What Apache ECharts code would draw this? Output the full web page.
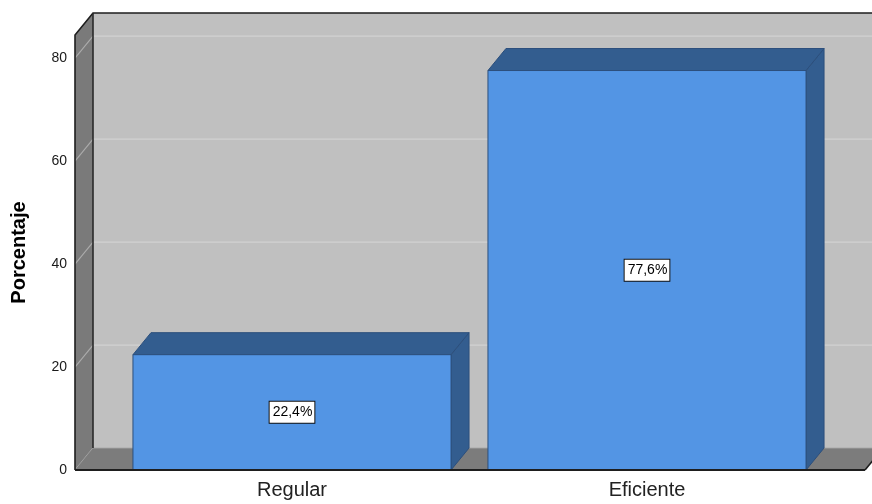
<!DOCTYPE html>
<html>
<head>
<meta charset="utf-8">
<script src="https://cdn.jsdelivr.net/npm/echarts@6/dist/echarts.min.js"></script>
<style>
  html, body { margin: 0; padding: 0; background: #fff; }
  #chart { width: 872px; height: 504px; }
</style>
</head>
<body>
<div id="chart"></div>
<script>
// Categories and their percentages
const categories = ['Regular', 'Eficiente'];
const percentages = [22.4, 77.6];
const yTicks = [0, 20, 40, 60, 80];
const yMax = 84.5;

// Box / depth styling
const DX = 18, DY = -22;          // depth offset of the 3D frame and bars
const WALL_LEFT_PAD = 39.5;       // front plot edge left of the category band
const WALL_RIGHT_PAD = 40.5;      // front plot edge right of the category band
const FRONT = '#5395e4';
const SIDE = '#335d8f';
const EDGE = '#2c4f7c';
const FONT = 'Liberation Sans, Arial, sans-serif';

function fmtPct(v) {
  return v.toFixed(1).replace('.', ',') + '%';
}

function renderFrame(params, api) {
  const cs = params.coordSys;
  const fl = cs.x - WALL_LEFT_PAD;
  const fr = cs.x + cs.width + WALL_RIGHT_PAD;
  const yb = api.coord([0, 0])[1];
  const yt = api.coord([0, yMax])[1];
  const children = [];
  // back wall
  children.push({
    type: 'polygon',
    shape: { points: [[fl + DX, yt + DY], [fr + DX + 40, yt + DY], [fr + DX + 40, yb + DY], [fl + DX, yb + DY]] },
    style: { fill: '#c0c0c0' }
  });
  // grid lines on the back wall and the left wall
  yTicks.forEach(function (t) {
    const y = api.coord([0, t])[1];
    children.push({
      type: 'line',
      shape: { x1: fl + DX, y1: y + DY, x2: fr + DX + 40, y2: y + DY },
      style: { stroke: '#d2d2d2', lineWidth: 1.2 }
    });
  });
  // left wall
  children.push({
    type: 'polygon',
    shape: { points: [[fl, yt], [fl + DX, yt + DY], [fl + DX, yb + DY], [fl, yb]] },
    style: { fill: '#7a7a7a' }
  });
  yTicks.forEach(function (t) {
    const y = api.coord([0, t])[1];
    children.push({
      type: 'line',
      shape: { x1: fl, y1: y, x2: fl + DX, y2: y + DY },
      style: { stroke: '#acacac', lineWidth: 1.1 }
    });
  });
  // floor
  children.push({
    type: 'polygon',
    shape: { points: [[fl, yb], [fl + DX, yb + DY], [fr + DX, yb + DY], [fr, yb]] },
    style: { fill: '#7c7c7c' }
  });
  // floor back edge
  children.push({
    type: 'line',
    shape: { x1: fl + DX, y1: yb + DY, x2: fr + DX, y2: yb + DY },
    style: { stroke: '#a0a0a0', lineWidth: 1 }
  });
  // outline edges
  children.push({
    type: 'polyline',
    shape: { points: [[fl, yb], [fl, yt], [fl + DX, yt + DY], [fr + DX + 40, yt + DY]] },
    style: { stroke: '#1e1e1e', lineWidth: 1.6, fill: null }
  });
  children.push({
    type: 'line',
    shape: { x1: fl + DX, y1: yt + DY, x2: fl + DX, y2: yb + DY },
    style: { stroke: '#2a2a2a', lineWidth: 1.6 }
  });
  children.push({
    type: 'line',
    shape: { x1: fr, y1: yb, x2: fr + DX, y2: yb + DY },
    style: { stroke: '#1e1e1e', lineWidth: 1.6 }
  });
  return { type: 'group', children: children };
}

function renderFloorEdge(params, api) {
  const cs = params.coordSys;
  const fl = cs.x - WALL_LEFT_PAD;
  const fr = cs.x + cs.width + WALL_RIGHT_PAD;
  const yb = api.coord([0, 0])[1];
  return {
    type: 'line',
    shape: { x1: fl, y1: yb, x2: fr, y2: yb },
    style: { stroke: '#1e1e1e', lineWidth: 2 }
  };
}

function renderBar(params, api) {
  const idx = api.value(0);
  const v = api.value(1);
  const base = api.coord([idx, 0]);
  const top = api.coord([idx, v]);
  const band = api.size([1, 0])[0];
  const w = band * 0.896;
  const xl = base[0] - w / 2, xr = base[0] + w / 2;
  const yb = base[1], yt = top[1];
  return {
    type: 'group',
    children: [
      {
        type: 'polygon',
        shape: { points: [[xr, yb], [xr, yt], [xr + DX, yt + DY], [xr + DX, yb + DY]] },
        style: { fill: SIDE, stroke: EDGE, lineWidth: 1 }
      },
      {
        type: 'polygon',
        shape: { points: [[xl, yt], [xl + DX, yt + DY], [xr + DX, yt + DY], [xr, yt]] },
        style: { fill: SIDE, stroke: EDGE, lineWidth: 1 }
      },
      {
        type: 'rect',
        shape: { x: xl, y: yt, width: w, height: yb - yt },
        style: { fill: FRONT, stroke: EDGE, lineWidth: 1 }
      },
      {
        type: 'text',
        x: base[0],
        y: (yt + yb) / 2,
        style: {
          text: fmtPct(v),
          align: 'center',
          verticalAlign: 'middle',
          fontSize: 14,
          fontFamily: FONT,
          fill: '#000',
          backgroundColor: '#fff',
          borderColor: '#111',
          borderWidth: 1,
          padding: [4, 2, 3, 3]
        }
      }
    ]
  };
}

const chart = echarts.init(document.getElementById('chart'), null, { renderer: 'canvas' });

chart.setOption({
  backgroundColor: '#ffffff',
  animation: false,
  grid: { left: 114.5, right: 47.5, top: 35, bottom: 34 },
  xAxis: {
    type: 'category',
    data: categories,
    axisLine: { show: false },
    axisTick: { show: false },
    splitLine: { show: false },
    axisLabel: { fontSize: 20, color: '#222', fontFamily: FONT, margin: 10 }
  },
  yAxis: {
    type: 'value',
    min: 0,
    max: yMax,
    interval: 20,
    offset: WALL_LEFT_PAD,
    name: 'Porcentaje',
    nameLocation: 'middle',
    nameRotate: 90,
    nameGap: 46,
    nameTextStyle: { fontSize: 20, fontWeight: 'bold', color: '#000', fontFamily: FONT },
    axisLine: { show: false },
    axisTick: { show: false },
    splitLine: { show: false },
    axisLabel: {
      fontSize: 14, color: '#1a1a1a', fontFamily: FONT, margin: 8,
      showMaxLabel: false,
      formatter: function (v) { return yTicks.indexOf(v) >= 0 ? String(v) : ''; }
    }
  },
  series: [
    {
      type: 'custom',
      name: 'frame',
      z: 1,
      clip: false,
      silent: true,
      renderItem: renderFrame,
      data: [[0, 0]]
    },
    {
      type: 'custom',
      name: 'Porcentaje',
      z: 2,
      clip: false,
      renderItem: renderBar,
      encode: { x: 0, y: 1 },
      data: categories.map(function (c, i) { return [i, percentages[i]]; })
    },
    {
      type: 'custom',
      name: 'floor-edge',
      z: 3,
      clip: false,
      silent: true,
      renderItem: renderFloorEdge,
      data: [[0, 0]]
    }
  ]
});
</script>
</body>
</html>
